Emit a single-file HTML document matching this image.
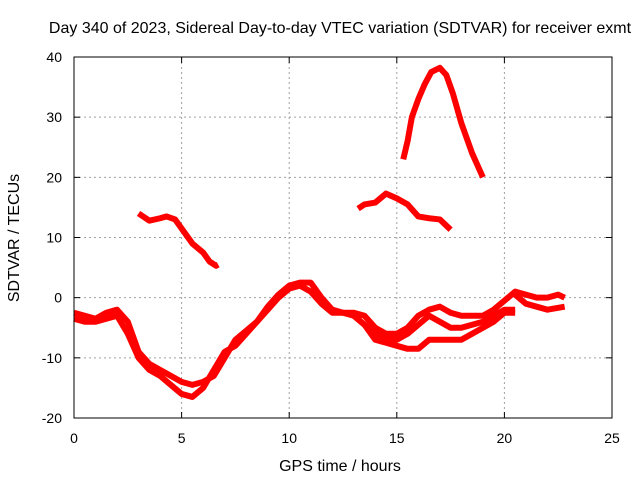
<!DOCTYPE html>
<html><head><meta charset="utf-8"><style>
body{margin:0;background:#fff;}
svg{display:block;font-family:"Liberation Sans",sans-serif;}
</style></head><body>
<svg id="chart" width="640" height="480" xmlns="http://www.w3.org/2000/svg">
<rect width="640" height="480" fill="#fff"/>
<g id="grid"></g><g id="series"></g><g id="axes"></g>
</svg>
<script>
const xTicks=[0,5,10,15,20,25];
const yTicks=[-20,-10,0,10,20,30,40];
const seriesA=[[0,-2.5],[0.5,-3],[1,-3.5],[1.5,-2.5],[2,-2],[2.5,-4],[3,-9],[3.5,-11],[4,-12],[4.5,-13],[5,-14],[5.5,-14.5],[6,-14],[6.5,-13],[7,-10],[7.5,-7],[8,-5.5],[8.5,-4],[9,-1.5],[9.5,0.5],[10,2],[10.5,2.5],[11,2.5],[11.5,0],[12,-2],[12.5,-2.5],[13,-2.5],[13.5,-3],[14,-5],[14.5,-6],[15,-6],[15.5,-5],[16,-3],[16.5,-2],[17,-1.5],[17.5,-2.5],[18,-3],[18.5,-3],[19,-3],[19.5,-2],[20,-0.5],[20.5,1],[21,0.5],[21.5,0],[22,0],[22.5,0.5],[22.8,0]];
const seriesB=[[0,-3.5],[0.5,-4],[1,-4],[1.5,-3.5],[2,-3],[2.5,-6],[3,-10],[3.5,-12],[4,-13],[4.5,-14.5],[5,-16],[5.5,-16.5],[6,-15],[6.5,-12],[7,-9],[7.5,-8],[8,-6],[8.5,-4],[9,-2],[9.5,0],[10,1.5],[10.5,2],[11,1],[11.5,-1],[12,-2.5],[12.5,-2.5],[13,-3],[13.5,-4.5],[14,-7],[14.5,-7.5],[15,-8],[15.5,-8.5],[16,-8.5],[16.5,-7],[17,-7],[17.5,-7],[18,-7],[18.5,-6],[19,-5],[19.5,-4],[20,-2.5],[20.5,-2.5]];
const seriesC=[[13,-3],[14,-6],[15,-7],[15.5,-6],[16,-4.5],[16.5,-3],[17,-4],[17.5,-5],[18,-5],[19,-4],[20,-2],[20.5,-2]];
const seriesC2=[[20.5,0.5],[21,-1],[22,-2],[22.8,-1.5]];
const seriesD=[[3,14],[3.5,12.8],[4,13.2],[4.3,13.5],[4.7,13],[5,11.5],[5.5,9],[6,7.5],[6.3,6],[6.6,5.3],[6.7,5.5]];
const seriesE=[[13.2,14.8],[13.5,15.5],[14,15.8],[14.5,17.3],[15,16.5],[15.5,15.5],[16,13.5],[16.5,13.2],[17,13],[17.5,11.3]];
const seriesF=[[15.3,23],[15.5,26],[15.7,30],[16,33],[16.3,35.5],[16.6,37.5],[17,38.2],[17.3,37],[17.6,34],[18,29],[18.5,24],[19,20]];
const allSeries=[seriesA,seriesB,seriesC,seriesC2,seriesD,seriesE,seriesF];
const X0=74,X1=612,Y0=418,Y1=57;
const xs=v=>X0+(v-0)/25*(X1-X0);
const ys=v=>Y0-(v+20)/60*(Y0-Y1);
const NS="http://www.w3.org/2000/svg";
function mk(t,a,p){const e=document.createElementNS(NS,t);for(const k in a)e.setAttribute(k,a[k]);p.appendChild(e);return e;}
const grid=document.getElementById('grid'),axes=document.getElementById('axes'),ser=document.getElementById('series');
xTicks.forEach(t=>{
  if(t>0&&t<25){const l=mk('line',{x1:xs(t),x2:xs(t),y1:Y1,y2:Y0,stroke:'#a0a0a0','stroke-dasharray':'2,3'},grid);
  
  }
  mk('line',{x1:xs(t),x2:xs(t),y1:Y0,y2:Y0-6,stroke:'#000'},axes);
  mk('line',{x1:xs(t),x2:xs(t),y1:Y1,y2:Y1+6,stroke:'#000'},axes);
  const tx=mk('text',{x:xs(t),y:443,'text-anchor':'middle','font-size':'14'},axes);tx.textContent=t;
  
  
});
yTicks.forEach(t=>{
  if(t>-20&&t<40){const l=mk('line',{x1:X0,x2:X1,y1:ys(t),y2:ys(t),stroke:'#a0a0a0','stroke-dasharray':'2,3'},grid);
  
  }
  mk('line',{x1:X0,x2:X0+6,y1:ys(t),y2:ys(t),stroke:'#000'},axes);
  mk('line',{x1:X1,x2:X1-6,y1:ys(t),y2:ys(t),stroke:'#000'},axes);
  const tx=mk('text',{x:62,y:ys(t)+5,'text-anchor':'end','font-size':'14'},axes);tx.textContent=t;
  
  
});
const fr=mk('rect',{x:X0,y:Y1,width:X1-X0,height:Y0-Y1,fill:'none',stroke:'#000'},axes);


allSeries.forEach((s,i)=>{
  const p=mk('polyline',{points:s.map(d=>xs(d[0])+','+ys(d[1])).join(' '),fill:'none',stroke:'#ff0000','stroke-width':'6','stroke-linejoin':'round'},ser);
  
  
});
let t=mk('text',{x:340,y:33,'text-anchor':'middle','font-size':'16'},axes);
t.textContent='Day 340 of 2023, Sidereal Day-to-day VTEC variation (SDTVAR) for receiver exmt';


t=mk('text',{x:340,y:471,'text-anchor':'middle','font-size':'16'},axes);
t.textContent='GPS time / hours';


t=mk('text',{x:19,y:238,'text-anchor':'middle','font-size':'16',transform:'rotate(-90 19 238)'},axes);
t.textContent='SDTVAR / TECUs';


</script>
</body></html>
